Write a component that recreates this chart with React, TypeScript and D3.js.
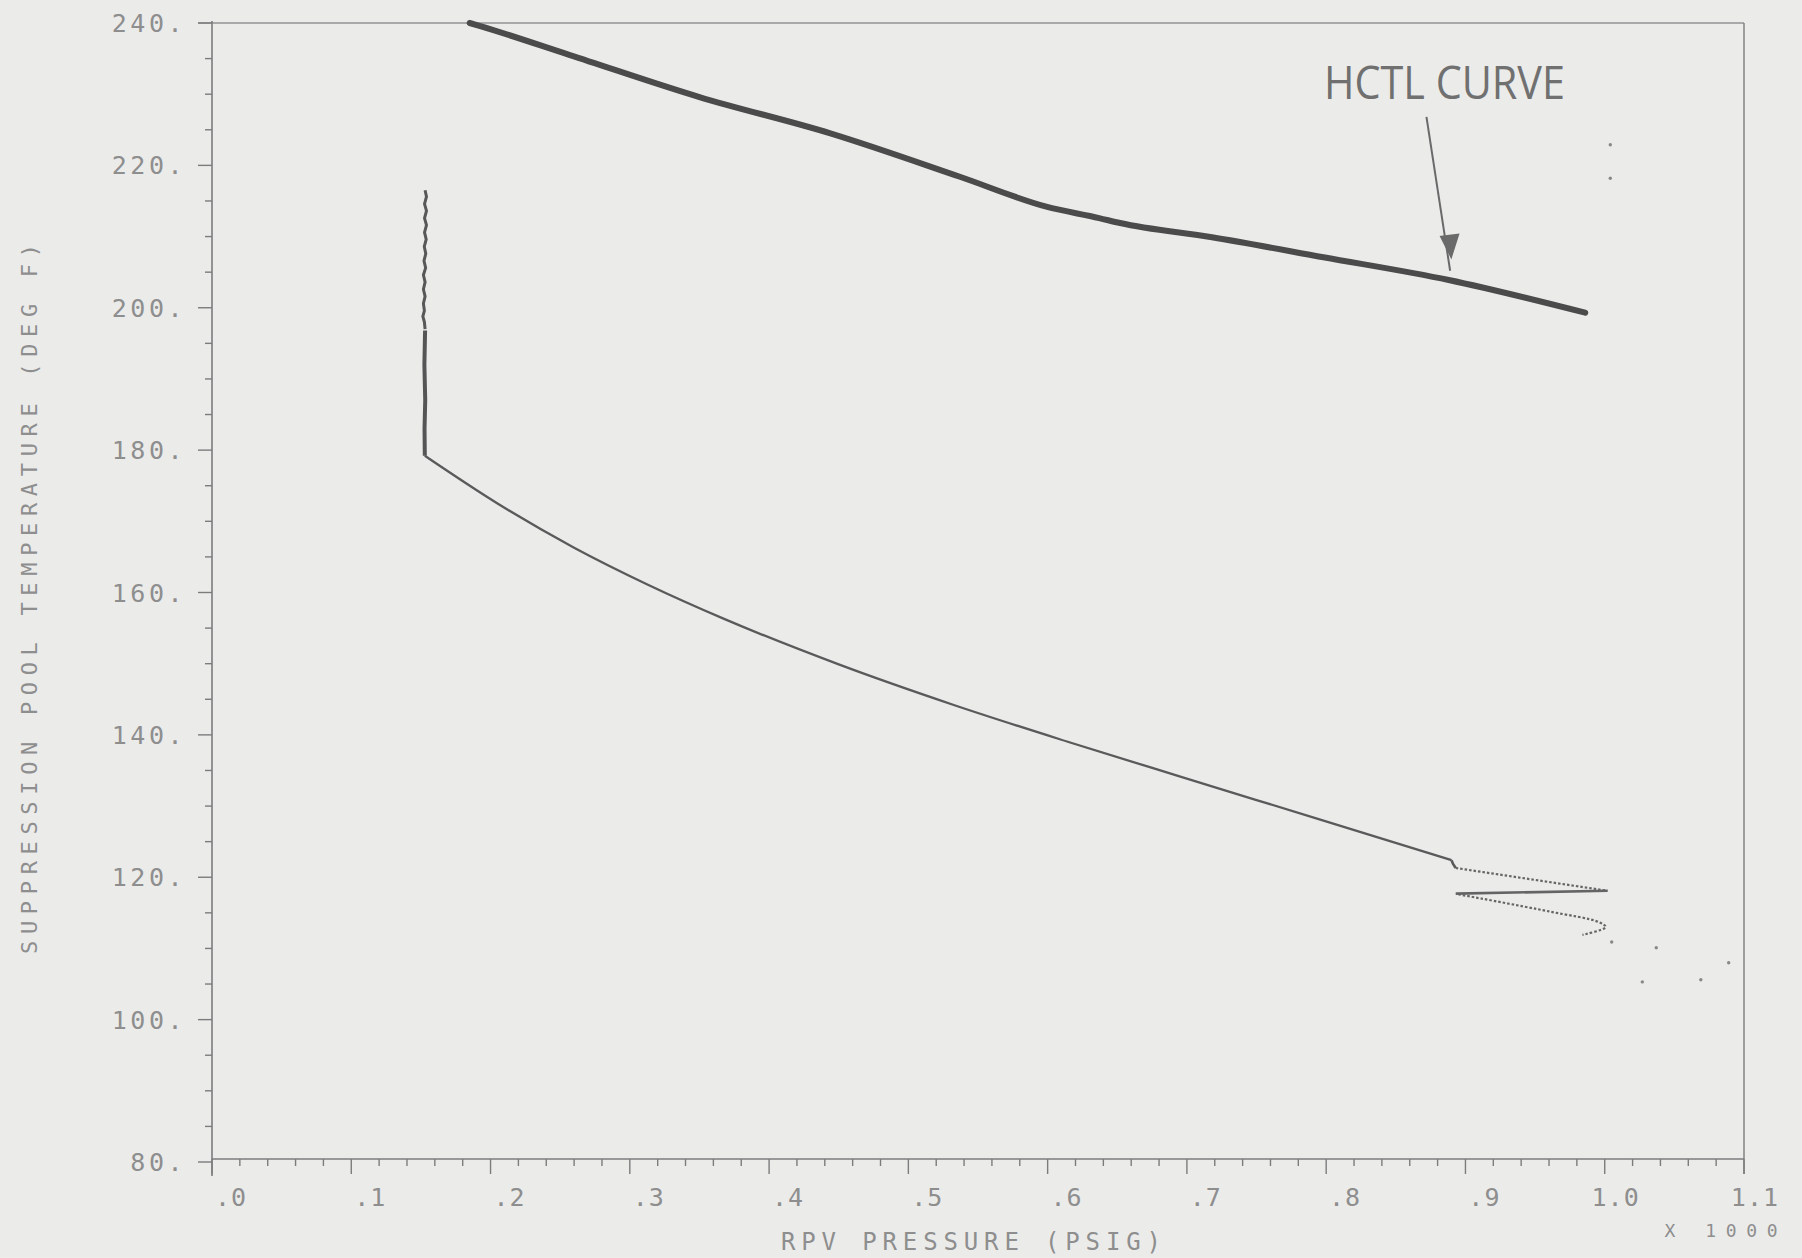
import React from 'react';
import * as d3 from 'd3';

// HCTL curve (RPV pressure psig, pool temperature deg F)
const hctlCurve: [number, number][] = [
  [185, 240.0], [192, 239.6], [257, 235.5], [350, 229.6], [444, 224.5],
  [537, 218.4], [599, 214.2], [637, 212.6], [652, 211.9], [718, 209.9],
  [798, 207.1], [888, 203.9], [986, 199.3],
];

// jagged vertical part of the plotted trace
const traceVertical: [number, number][] = [
  [153, 216.5], [154, 215.6], [152.6, 214.6], [154, 213.6], [152.6, 212.6],
  [154, 211.6], [152.6, 210.6], [153.8, 209.6], [152.4, 208.6], [153.5, 207.6],
  [152.2, 206.6], [153.4, 205.6], [151.8, 204.6], [153, 203.6], [151.8, 202.6],
  [153, 201.6], [151.8, 200.6], [152.5, 199.6], [151.4, 198.8], [152.5, 198],
  [153, 197],
];

const traceDense: [number, number][] = [
  [153, 196.8], [152.5, 192], [153.1, 187], [152.6, 183], [152.8, 179.2],
];

const traceCurve: [number, number][] = [
  [152.8, 179.2], [205, 172.5], [260, 166.3], [313, 161.1], [367.7, 156.3],
  [450, 149.9], [532.6, 144.2], [615, 139.0], [697.6, 134.0], [794, 128.2],
  [890, 122.4],
];
const traceStep: [number, number][] = [[890, 122.4], [891, 121.9], [893, 121.3]];

const traceDotted1: [number, number][] = [[893, 121.3], [1002, 118.1]];
const traceReturn: [number, number][] = [[1002, 118.1], [893, 117.7]];
const traceDotted2: [number, number][] = [
  [895, 117.6], [960, 115.2], [995.7, 113.7], [1000.7, 113.0], [984, 111.9],
];

const specks: [number, number][] = [
  [1005, 110.9], [1037, 110.1], [1027, 105.3], [1069, 105.6], [1089, 108],
  [1004, 222.9], [1004, 218.2],
];

const arrowFrom: [number, number] = [872, 226.8];
const arrowTo: [number, number] = [889, 205.2];

const yTicks = [80, 100, 120, 140, 160, 180, 200, 220, 240];
const xTicks = [0, 100, 200, 300, 400, 500, 600, 700, 800, 900, 1000, 1100];
const xTickLabels = ['.0', '.1', '.2', '.3', '.4', '.5', '.6', '.7', '.8', '.9', '1.0', '1.1'];

const W = 1802;
const H = 1258;
const plot = { left: 212, right: 1744, top: 23, bottom: 1162 };

const FONT = '"DejaVu Sans Mono", monospace';
const TEXT = '#8e8e8e';
const AXIS = '#7c7c7c';

export default function App() {
  const x = d3.scaleLinear().domain([0, 1100]).range([plot.left, plot.right]);
  const y = d3.scaleLinear().domain([80, 240]).range([plot.bottom, plot.top]);
  const line = d3.line<[number, number]>().x(d => x(d[0])).y(d => y(d[1]));
  const smooth = d3.line<[number, number]>().x(d => x(d[0])).y(d => y(d[1])).curve(d3.curveMonotoneX);
  const loose = d3.line<[number, number]>().x(d => x(d[0])).y(d => y(d[1])).curve(d3.curveCatmullRom);

  const yMinor = d3.range(80, 241, 5);
  const xMinor = d3.range(0, 1101, 20);

  const ax = x(arrowTo[0]);
  const ay = y(arrowTo[1]);

  return (
    <svg width={W} height={H} style={{ position: 'absolute', left: 0, top: 0, background: '#ebebea' }}>
      {/* frame */}
      <line x1={plot.left} x2={plot.left} y1={plot.top - 2} y2={plot.bottom + 14} stroke={AXIS} strokeWidth={1.6} />
      <line x1={plot.left - 14} x2={plot.right} y1={plot.top} y2={plot.top} stroke={AXIS} strokeWidth={1.4} opacity={0.8} />
      <line x1={plot.left} x2={plot.right} y1={plot.bottom - 3} y2={plot.bottom - 3} stroke={AXIS} strokeWidth={1.6} />
      <line x1={plot.right} x2={plot.right} y1={plot.top} y2={plot.bottom + 12} stroke={AXIS} strokeWidth={1.4} />

      {/* y ticks */}
      {yMinor.map(v => (
        <line key={'ym' + v} x1={plot.left - (v % 20 === 0 ? 14 : 7)} x2={plot.left} y1={y(v)} y2={y(v)}
          stroke={AXIS} strokeWidth={1.4} />
      ))}
      {yTicks.map(v => (
        <text key={'yl' + v} x={186} y={y(v)} dy="0.36em" textAnchor="end" fontFamily={FONT}
          fontSize={25} letterSpacing={3.5} fill={TEXT}>{v + '.'}</text>
      ))}

      {/* x ticks */}
      {xMinor.map(v => (
        <line key={'xm' + v} x1={x(v)} x2={x(v)} y1={plot.bottom - 3} y2={plot.bottom - 3 + (v % 100 === 0 ? 15 : 7)}
          stroke={AXIS} strokeWidth={1.4} />
      ))}
      {xTicks.map((v, i) => (
        <text key={'xl' + v} x={x(v) + 35} y={1197} dy="0.36em" textAnchor="end" fontFamily={FONT}
          fontSize={25} letterSpacing={1} fill={TEXT}>{xTickLabels[i]}</text>
      ))}

      {/* axis titles */}
      <text x={971} y={1241} dy="0.36em" textAnchor="middle" fontFamily={FONT} fontSize={24}
        textLength={380} lengthAdjust="spacing" fill={TEXT}>RPV PRESSURE (PSIG)</text>
      <text x={1721} y={1231} dy="0.36em" textAnchor="middle" fontFamily={FONT} fontSize={18}
        textLength={113} lengthAdjust="spacing" fill={TEXT}>X 1000</text>
      <text transform="translate(29,599) rotate(-90)" dy="0.36em" textAnchor="middle" fontFamily={FONT}
        fontSize={22} textLength={710} lengthAdjust="spacing" fill={TEXT}>
        SUPPRESSION POOL TEMPERATURE (DEG F)
      </text>

      {/* HCTL curve */}
      <path d={smooth(hctlCurve) ?? ''} fill="none" stroke="#4b4b4b" strokeWidth={6} strokeLinecap="round" strokeLinejoin="round" />

      {/* plotted trace */}
      <path d={line(traceVertical) ?? ''} fill="none" stroke="#575757" strokeWidth={3} strokeLinejoin="round" />
      <path d={line(traceDense) ?? ''} fill="none" stroke="#555" strokeWidth={4} strokeLinejoin="round" />
      <path d={smooth(traceCurve) ?? ''} fill="none" stroke="#5a5a5a" strokeWidth={2.3} strokeLinejoin="round" />
      <path d={line(traceStep) ?? ''} fill="none" stroke="#5a5a5a" strokeWidth={2.6} />
      <path d={line(traceDotted1) ?? ''} fill="none" stroke="#666" strokeWidth={2.2} strokeDasharray="2.5 2" />
      <path d={line(traceReturn) ?? ''} fill="none" stroke="#646464" strokeWidth={2.6} />
      <path d={loose(traceDotted2) ?? ''} fill="none" stroke="#666" strokeWidth={2.2} strokeDasharray="2.5 2" />
      {specks.map((d, i) => (
        <circle key={'s' + i} cx={x(d[0])} cy={y(d[1])} r={1.7} fill="#888" />
      ))}

      {/* annotation */}
      <line x1={x(arrowFrom[0])} y1={y(arrowFrom[1])} x2={ax} y2={ay}
        stroke="#6a6a6a" strokeWidth={2} />
      <path d={`M${ax - 9},${ay - 34} L${ax + 8},${ay - 36} L${ax + 1},${ay - 14} Z`}
        fill="#6a6a6a" stroke="#6a6a6a" strokeWidth={2} />
      <text x={1324} y={99} fontFamily='"Open Sans", sans-serif' fontSize={46} textLength={241}
        lengthAdjust="spacingAndGlyphs" fill="#707070">HCTL CURVE</text>
    </svg>
  );
}
